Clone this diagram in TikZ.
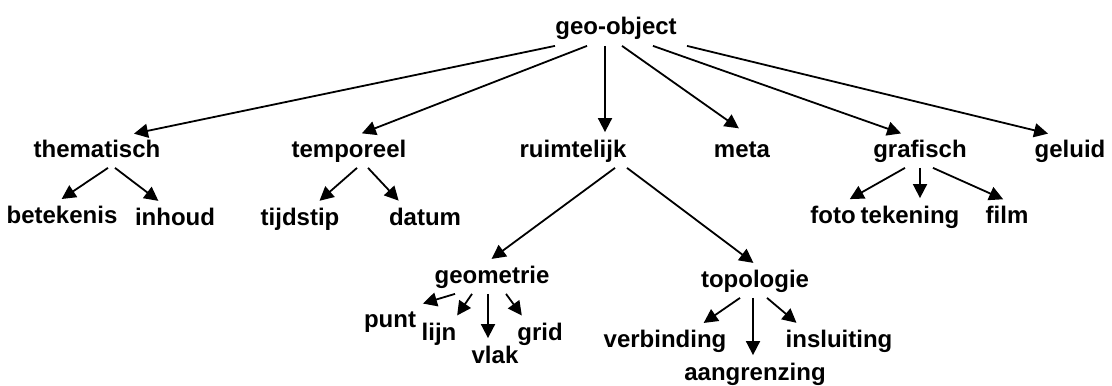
\documentclass[tikz,border=0pt]{standalone}
\usepackage{fontspec}
\setmainfont{Liberation Sans}
\usepackage{tikz}
\usetikzlibrary{arrows.meta}

\begin{document}
\begin{tikzpicture}[>={Triangle[length=7pt,width=7pt]},
                x=0.5pt, y=-0.5pt, line width=0.9pt, shorten >=1pt,
                every node/.style={font=\bfseries\fontsize{12}{14}\selectfont, anchor=base,
                                   inner sep=1pt, text height=10pt, text depth=4pt}]

                \useasboundingbox (0,0) rectangle (1112,385);

                % top level
                \node (geo) at (616,35) {geo-object};

                \node (them) at (97,157)  {thematisch};
                \node (temp) at (349,157) {temporeel};
                \node (ruim) at (573,157) {ruimtelijk};
                \node (meta) at (742,157) {meta};
                \node (graf) at (920,157) {grafisch};
                \node (gel)  at (1070,157) {geluid};

                % leaves under thematisch, temporeel, grafisch
                \node (bet)  at (62,223)  {betekenis};
                \node (inh)  at (175,225) {inhoud};
                \node (tijd) at (300,225) {tijdstip};
                \node (dat)  at (425,225) {datum};
                \node (foto) at (833,223) {foto};
                \node (tek)  at (910,223) {tekening};
                \node (film) at (1007,223) {film};

                % ruimtelijk
                \node (geom) at (492,283) {geometrie};
                \node (topo) at (755,287) {topologie};

                \node (punt) at (390,327) {punt};
                \node (lijn) at (439,340) {lijn};
                \node (vlak) at (495,363) {vlak};
                \node (grid) at (540,340) {grid};

                \node (verb) at (665,347) {verbinding};
                \node (aang) at (755,380) {aangrenzing};
                \node (insl) at (839,347) {insluiting};

                \path[->]
                (geo.south -| 555,0) edge (them.north -| 132,0)
                (geo.south -| 587,0) edge (temp.north -| 360,0)
                (geo.south -| 605,0) edge (ruim.north -| 605,0)
                (geo.south -| 622,0) edge[shorten >=5pt] (meta.north -| 747,0)
                (geo.south -| 653,0) edge (graf.north -| 903,0)
                (geo.south -| 687,0) edge (gel.north -| 1050,0)

                (them.south -| 108,0) edge (bet.north -| 60,0)
                (them.south -| 115,0) edge (inh.north -| 160,0)
                (temp.south -| 357,0) edge (tijd.north -| 318,0)
                (temp.south -| 368,0) edge (dat.north -| 400,0)

                (graf.south -| 905,0) edge (foto.north -| 848,0)
                (graf.south -| 920,0) edge (tek.north -| 920,0)
                (graf.south -| 933,0) edge (film.north -| 1005,0)

                (ruim.south -| 615,0) edge (geom.north -| 490,0)
                (ruim.south -| 627,0) edge (topo.north -| 755,0)

                (geom.south -| 455,0) edge (punt.north -| 421,0)
                (geom.south -| 472,0) edge (lijn.north -| 456,0)
                (geom.south -| 488,0) edge (vlak.north -| 488,0)
                (geom.south -| 506,0) edge (grid.north -| 523,0)

                (topo.south -| 740,0) edge (verb.north -| 702,0)
                (topo.south -| 753,0) edge (aang.north -| 753,0)
                (topo.south -| 767,0) edge (insl.north -| 798,0);

\end{tikzpicture}
\end{document}
